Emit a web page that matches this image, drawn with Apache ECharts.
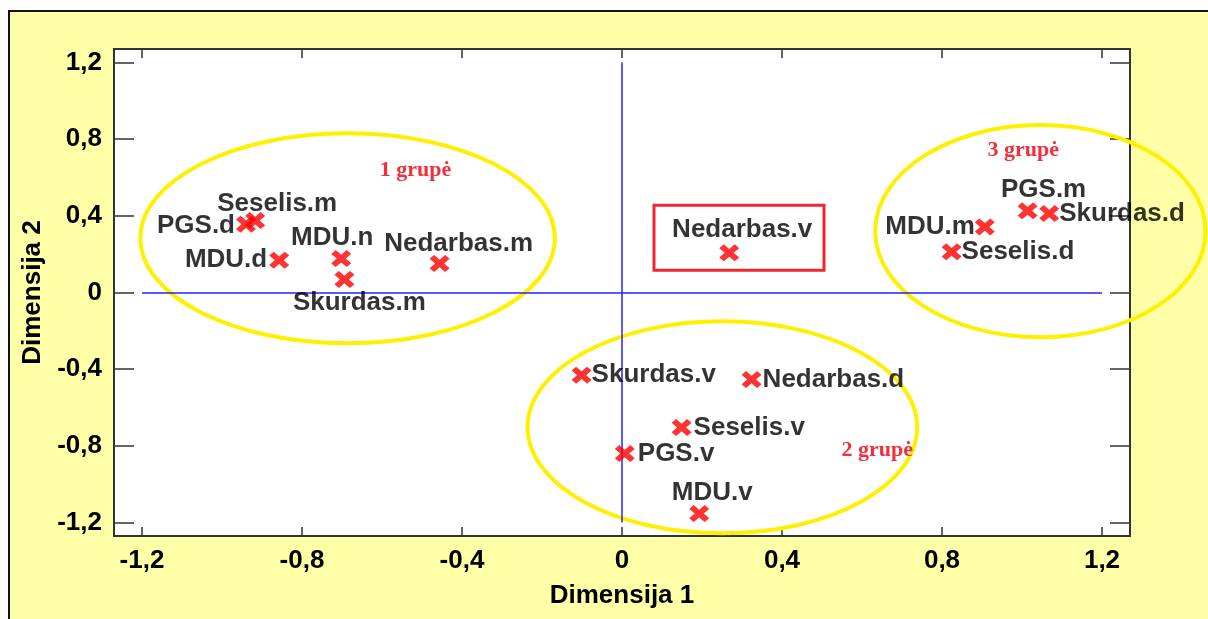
<!DOCTYPE html>
<html>
<head>
<meta charset="utf-8">
<script src="https://cdn.jsdelivr.net/npm/echarts@6/dist/echarts.min.js"></script>
<style>
  html, body { margin:0; padding:0; background:#fff; }
  #frame { position:absolute; left:8px; top:10px; width:1200px; height:609px; background:#ffffa8; border-left:2px solid #111; border-top:2px solid #111; }
  #chart { position:absolute; left:0; top:0; width:1208px; height:619px; }
</style>
</head>
<body>
<div id="frame"></div>
<div id="chart"></div>
<script>
// duomenys
const names = ['Seselis.m','PGS.d','MDU.d','MDU.n','Skurdas.m','Nedarbas.m','Nedarbas.v','MDU.m','PGS.m','Skurdas.d','Seselis.d','Skurdas.v','Nedarbas.d','Seselis.v','PGS.v','MDU.v'];
const dim1 = [-0.917,-0.94,-0.857,-0.702,-0.694,-0.456,0.268,0.907,1.014,1.068,0.824,-0.101,0.324,0.149,0.007,0.193];
const dim2 = [0.375,0.356,0.168,0.177,0.068,0.151,0.207,0.342,0.426,0.412,0.212,-0.431,-0.454,-0.704,-0.84,-1.153];
const tickValues = [-1.2,-0.8,-0.4,0,0.4,0.8,1.2];

// grupiu elipses: [cx, cy, rx, ry] duomenu vienetais
const groupEllipses = [
  [-0.686, 0.283, 0.518, 0.548],
  [0.251, -0.703, 0.487, 0.553],
  [1.046, 0.32, 0.413, 0.553]
];
const groupNames = ['1 grupė','2 grupė','3 grupė'];
const groupLabelX = [-0.516, 0.638, 1.003];
const groupLabelY = [0.638, -0.823, 0.742];
// remelis apie Nedarbas.v: [x1, y1, x2, y2]
const highlightBox = [0.08, 0.455, 0.505, 0.116];

// etikeciu isdestymas
const labelPlace = {
  'Seselis.m': {position:'inside', offset:[22,-17]},
  'PGS.d': {position:'left', distance:1, offset:[0,2]},
  'MDU.d': {position:'left', distance:2},
  'MDU.n': {position:'inside', offset:[-9,-21]},
  'Skurdas.m': {position:'inside', offset:[15,23]},
  'Nedarbas.m': {position:'inside', offset:[19,-20]},
  'Nedarbas.v': {position:'inside', offset:[13,-23]},
  'MDU.m': {position:'left', distance:0},
  'PGS.m': {position:'inside', offset:[16,-21]},
  'Skurdas.d': {position:'right', distance:0},
  'Seselis.d': {position:'right', distance:0},
  'Skurdas.v': {position:'right', distance:0},
  'Nedarbas.d': {position:'right', distance:1},
  'Seselis.v': {position:'right', distance:2},
  'PGS.v': {position:'right', distance:3},
  'MDU.v': {position:'inside', offset:[13,-21]}
};

const sans = 'Arial, "Liberation Sans", sans-serif';
const serif = '"Times New Roman", "Liberation Serif", serif';
const fmt = v => String(+(+v).toFixed(1)).replace('.', ',');
const xMark = 'path://M0,4.5 L4.5,0 L10,5.5 L15.5,0 L20,4.5 L14.5,10 L20,15.5 L15.5,20 L10,14.5 L4.5,20 L0,15.5 L5.5,10 Z';

const chart = echarts.init(document.getElementById('chart'), null, {renderer:'canvas'});

function valueAxis(pos, showLabel, tickLen, name, nameGap){
  return {
    type:'value', position:pos, min:-1.27, max:1.27,
    splitLine:{show:false},
    axisLine:{show:false, onZero:false},
    axisTick:{show:true, inside:true, length:tickLen, customValues:tickValues, lineStyle:{color:'#333', width:1.5}},
    axisLabel:{show:showLabel, customValues:tickValues, formatter:fmt, color:'#000', fontFamily:sans, fontWeight:'bold', fontSize:26, margin:12},
    name:name, nameLocation:'middle', nameGap:nameGap,
    nameTextStyle:{color:'#000', fontFamily:sans, fontWeight:'bold', fontSize:26}
  };
}

const points = names.map((n,i) => ({
  name:n, value:[dim1[i], dim2[i]],
  label:Object.assign({show:true, formatter:'{b}'}, labelPlace[n])
}));

const option = {
  backgroundColor:'transparent',
  animation:false,
  grid:{left:114, top:49, right:78, bottom:83, show:true, backgroundColor:'#fff', borderColor:'#333', borderWidth:2},
  xAxis:[
    valueAxis('bottom', true, 9, 'Dimensija 1', 47),
    valueAxis('top', false, 9, '', 0)
  ],
  yAxis:[
    valueAxis('left', true, 20, 'Dimensija 2', 55),
    valueAxis('right', false, 20, '', 0)
  ],
  series:[
    {
      type:'line', data:[], z:1, silent:true,
      markLine:{
        silent:true, symbol:'none', animation:false,
        lineStyle:{color:'#2323ff', width:1.5, type:'solid'},
        label:{show:false},
        data:[
          [{coord:[tickValues[0],0]},{coord:[tickValues[tickValues.length-1],0]}],
          [{coord:[0,tickValues[tickValues.length-1]]},{coord:[0,tickValues[0]]}]
        ]
      }
    },
    {
      type:'custom', coordinateSystem:'cartesian2d', clip:false, silent:true, z:3,
      data:groupEllipses,
      renderItem:(params, api) => {
        const c = api.coord([api.value(0), api.value(1)]);
        const s = api.size([api.value(2), api.value(3)]);
        return {type:'ellipse', shape:{cx:c[0], cy:c[1], rx:s[0], ry:s[1]},
          style:{fill:'none', stroke:'#fff000', lineWidth:4}};
      }
    },
    {
      type:'custom', coordinateSystem:'cartesian2d', clip:false, silent:true, z:3,
      data:[highlightBox],
      renderItem:(params, api) => {
        const a = api.coord([api.value(0), api.value(1)]);
        const b = api.coord([api.value(2), api.value(3)]);
        return {type:'rect', shape:{x:a[0], y:a[1], width:b[0]-a[0], height:b[1]-a[1]},
          style:{fill:'none', stroke:'#ee2630', lineWidth:3}};
      }
    },
    {
      type:'custom', coordinateSystem:'cartesian2d', clip:false, silent:true, z:4,
      data:groupNames.map((n,i) => [groupLabelX[i], groupLabelY[i], n]),
      renderItem:(params, api) => {
        const c = api.coord([api.value(0), api.value(1)]);
        return {type:'text', style:{text:groupNames[params.dataIndex], x:c[0], y:c[1],
          textAlign:'center', textVerticalAlign:'middle', fill:'#f2303c',
          font:'bold 22px ' + serif}};
      }
    },
    {
      type:'scatter', z:5,
      symbol:xMark, symbolSize:[20,17],
      itemStyle:{color:'#ff0000'},
      label:{color:'#000', fontFamily:sans, fontWeight:'bold', fontSize:26},
      data:points
    }
  ]
};
chart.setOption(option);
window.addEventListener('resize', () => chart.resize());
</script>
</body>
</html>
